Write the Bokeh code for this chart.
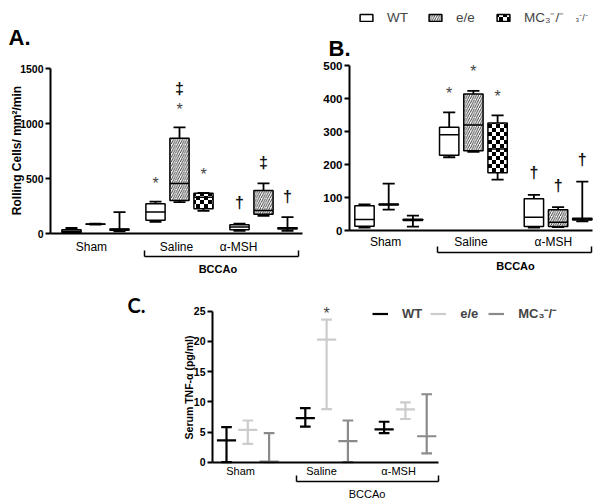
import math
import zlib
import struct
import base64
from bokeh.plotting import figure
from bokeh.models import (ColumnDataSource, Range1d, FixedTicker, LinearAxis,
                          Label, LabelSet, Legend, LegendItem, ImageURLTexture)
from bokeh.layouts import column, row
from bokeh.core.properties import value
from bokeh.embed import file_html
from bokeh.resources import INLINE

FONT = "Liberation Sans"

# ---------------- data ----------------
groups = ["Sham", "Saline", "α-MSH"]
genotypes = ["WT", "e/e", "MC3-/-"]
legend_labels = ["WT", "e/e", "MC₃⁻/⁻"]

# Panel A: rolling cells / mm2 / min  -> (min, q1, median, q3, max) per group
rolling_A_wt = [(5, 10, 20, 35, 50), (105, 120, 195, 270, 290), (25, 35, 60, 80, 90)]
rolling_A_ee = [(80, 83, 85, 87, 90), (285, 300, 455, 865, 965), (160, 175, 210, 390, 455)]
rolling_A_mc3 = [(20, 30, 38, 40, 195), (205, 225, 330, 365, 370), (25, 40, 48, 52, 148)]
ticks_A = [0, 500, 1000, 1500]

# Panel B: (min, q1, median, q3, max)
rolling_B_wt = [(9, 13, 33, 75, 79), (222, 228, 290, 313, 358), (9, 12, 40, 96, 108)]
rolling_B_ee = [(63, 77, 79, 80, 142), (238, 242, 320, 414, 423), (10, 12, 25, 63, 71)]
rolling_B_mc3 = [(12, 30, 32, 34, 45), (154, 175, 247, 326, 349), (28, 32, 35, 37, 148)]
ticks_B = [0, 100, 200, 300, 400, 500]

# Panel C: serum TNF-alpha (low, centre, high)
tnf_wt = [(0.0, 3.6, 5.8), (5.9, 7.3, 8.95), (4.8, 5.45, 6.7)]
tnf_ee = [(3.05, 5.35, 6.9), (8.8, 20.3, 23.6), (7.15, 8.75, 9.9)]
tnf_mc3 = [(0.0, 0.1, 4.8), (0.0, 3.48, 6.9), (1.45, 4.3, 11.25)]
ticks_C = [0, 5, 10, 15, 20, 25]

# significance marks: (group, genotype, symbol, stack level)
marks_A = [("Saline", "WT", "*", 0), ("Saline", "e/e", "*", 0), ("Saline", "e/e", "‡", 1),
           ("Saline", "MC3-/-", "*", 0), ("α-MSH", "WT", "†", 0),
           ("α-MSH", "e/e", "‡", 0), ("α-MSH", "MC3-/-", "†", 0)]
marks_B = [("Saline", "WT", "*", 0), ("Saline", "e/e", "*", 0), ("Saline", "MC3-/-", "*", 0),
           ("α-MSH", "WT", "†", 0), ("α-MSH", "e/e", "†", 0), ("α-MSH", "MC3-/-", "†", 0)]
marks_C = [("Saline", "e/e", "*", 0)]


# ---------------- helpers ----------------
class PixMap:
    """maps a canvas pixel position to a data value (linear)"""
    def __init__(self, p0, v0, p1, v1):
        self.p0, self.v0 = p0, v0
        self.s = (v1 - v0) / (p1 - p0)

    def __call__(self, px):
        return self.v0 + (px - self.p0) * self.s


def checker_png(n=8, s=4):
    raw = b""
    for yy in range(n):
        raw += b"\x00"
        for xx in range(n):
            black = ((xx // s) + (yy // s)) % 2 == 0
            raw += b"\x00\x00\x00\xff" if black else b"\xff\xff\xff\xff"

    def chunk(t, d):
        c = struct.pack(">I", len(d)) + t + d
        return c + struct.pack(">I", zlib.crc32(t + d) & 0xffffffff)

    ihdr = struct.pack(">IIBBBBB", n, n, 8, 6, 0, 0, 0)
    png = (b"\x89PNG\r\n\x1a\n" + chunk(b"IHDR", ihdr) +
           chunk(b"IDAT", zlib.compress(raw)) + chunk(b"IEND", b""))
    return "data:image/png;base64," + base64.b64encode(png).decode()


BOX_W = 0.8
CAP_W = 0.5
CHECKER = ImageURLTexture(url=checker_png())
hatches = [
    dict(hatch_pattern=None),
    dict(hatch_pattern="right_diagonal_line", hatch_color="#222222", hatch_scale=4.5, hatch_weight=0.9),
    dict(hatch_pattern=value("checker"), hatch_extra={"checker": CHECKER}),
]


def base_fig(width, height, mx, my):
    p = figure(width=width, height=height,
               x_range=Range1d(mx(0), mx(width)), y_range=Range1d(my(height), my(0)),
               output_backend="svg", toolbar_location=None, tools="", title=None,
               min_border_left=0, min_border_right=0, min_border_top=0, min_border_bottom=0)
    p.outline_line_color = None
    p.grid.visible = False
    p.background_fill_color = "white"
    p.border_fill_color = "white"
    return p


def style_y(p, ticks, size, x_loc):
    ax = p.yaxis[0]
    ax.fixed_location = x_loc
    ax.bounds = (ticks[0], ticks[-1])
    ax.ticker = FixedTicker(ticks=ticks)
    ax.axis_line_width = 2
    ax.axis_line_color = "black"
    ax.major_tick_line_width = 2
    ax.major_tick_line_color = "black"
    ax.major_tick_out = 5
    ax.major_tick_in = 0
    ax.minor_tick_line_color = None
    ax.minor_tick_out = 0
    ax.minor_tick_in = 0
    ax.major_label_text_font = FONT
    ax.major_label_text_font_size = size
    ax.major_label_text_font_style = "bold"
    ax.major_label_text_color = "black"
    ax.major_label_standoff = 2


def style_x(p, bounds, label_pos, size, standoff, bracket_y, bracket, bccao_pos, bold, standoff2):
    ax = p.xaxis[0]
    ax.fixed_location = 0
    ax.bounds = bounds
    ax.ticker = FixedTicker(ticks=label_pos)
    ax.major_label_overrides = {t: g for t, g in zip(label_pos, groups)}
    ax.axis_line_width = 2
    ax.axis_line_color = "black"
    ax.major_tick_line_color = None
    ax.major_tick_out = 0
    ax.major_tick_in = 0
    ax.minor_tick_line_color = None
    ax.minor_tick_out = 0
    ax.minor_tick_in = 0
    ax.major_label_text_font = FONT
    ax.major_label_text_font_size = size
    ax.major_label_text_color = "black"
    ax.major_label_standoff = standoff
    ax2 = LinearAxis(fixed_location=bracket_y, bounds=bracket,
                     ticker=FixedTicker(ticks=[bccao_pos], minor_ticks=list(bracket)),
                     major_label_overrides={bccao_pos: "BCCAo"})
    ax2.axis_line_width = 1.5
    ax2.axis_line_color = "black"
    ax2.major_tick_line_color = None
    ax2.major_tick_out = 0
    ax2.major_tick_in = 0
    ax2.minor_tick_in = 6
    ax2.minor_tick_out = 0
    ax2.minor_tick_line_width = 1.5
    ax2.minor_tick_line_color = "black"
    ax2.major_label_text_font = FONT
    ax2.major_label_text_font_size = "11px"
    ax2.major_label_text_font_style = "bold" if bold else "normal"
    ax2.major_label_text_color = "black"
    ax2.major_label_standoff = standoff2
    p.add_layout(ax2, "below")


def draw_boxes(p, stats_by_geno, gap):
    rends = []
    for i, stats in enumerate(stats_by_geno):
        xs = [g * gap + i for g in range(len(groups))]
        src = ColumnDataSource(dict(
            x=xs,
            lo=[s[0] for s in stats], q1=[s[1] for s in stats], med=[s[2] for s in stats],
            q3=[s[3] for s in stats], hi=[s[4] for s in stats],
            cl=[x - CAP_W / 2 for x in xs], cr=[x + CAP_W / 2 for x in xs],
            bl=[x - BOX_W / 2 for x in xs], br=[x + BOX_W / 2 for x in xs]))
        kw = dict(source=src, line_color="black", line_width=1.8)
        p.segment("x", "lo", "x", "q1", **kw)
        p.segment("x", "q3", "x", "hi", **kw)
        p.segment("cl", "hi", "cr", "hi", **kw)
        p.segment("cl", "lo", "cr", "lo", **kw)
        r = p.vbar(x="x", width=BOX_W, bottom="q1", top="q3", source=src,
                   fill_color="white", line_color="black", line_width=1.5, **hatches[i])
        p.segment("bl", "med", "br", "med", source=src, line_color="black", line_width=1.5)
        rends.append(r)
    return rends


def add_marks(p, marks, tops, gap, base, step):
    xs, ys, txt, off, sty, col = [], [], [], [], [], []
    for grp, geno, sym, lvl in marks:
        g = groups.index(grp)
        i = genotypes.index(geno)
        xs.append(g * gap + i)
        ys.append(tops[i][g])
        txt.append(sym)
        star = sym == "*"
        off.append(base + lvl * step - (3 if star else 0))
        sty.append("normal" if star else "bold")
        col.append("#444444" if star else "#111111")
    src = ColumnDataSource(dict(x=xs, y=ys, text=txt, off=off, sty=sty, col=col))
    p.add_layout(LabelSet(x="x", y="y", text="text", y_offset="off", source=src,
                          text_align="center", text_baseline="middle",
                          text_font=value(FONT), text_font_size="16px",
                          text_font_style="sty", text_color="col"))


def screen_label(p, h, x, y_top, text, size, bold=True, angle=0.0, align="left",
                 baseline="alphabetic", font=FONT, color="black"):
    # y_top: pixel position measured from the top of the canvas
    p.add_layout(Label(x=x, y=h - y_top, x_units="screen", y_units="screen", text=text,
                       text_font=font, text_font_size=size,
                       text_font_style="bold" if bold else "normal",
                       angle=angle, text_align=align, text_baseline=baseline,
                       text_color=color))


TOP_H = 290

# ---------------- Panel A ----------------
GAP_AB = 3.5
WA = 308
mxA = PixMap(71, 0, 95, 1)
myA = PixMap(233, 0, 68, 1500)
pA = base_fig(WA, TOP_H, mxA, myA)
style_y(pA, ticks_A, "10.5px", mxA(50))
style_x(pA, (mxA(50), mxA(302)), [0.83, 4.375, 6.96], "12px", 6,
        myA(256), (3.04, 9.46), 6.1, True, 6)
stats_A = [rolling_A_wt, rolling_A_ee, rolling_A_mc3]
draw_boxes(pA, stats_A, GAP_AB)
add_marks(pA, marks_A, [[s[4] for s in st] for st in stats_A], GAP_AB, 21, 18)
screen_label(pA, TOP_H, 8, 37, "A.", "22px")
screen_label(pA, TOP_H, 16, 150, "Rolling Cells/ mm²/min", "12px", angle=math.pi / 2,
             align="center", baseline="middle")

# ---------------- Panel B ----------------
WB = 298
mxB = PixMap(56, 0, 80.2, 1)
myB = PixMap(230, 0, 65, 500)
pB = base_fig(WB, TOP_H, mxB, myB)
style_y(pB, ticks_B, "11.5px", mxB(41))
style_x(pB, (mxB(41), mxB(284)), [0.87, 4.4, 7.8], "12px", 4,
        myB(252), (3.03, 9.4), 6.24, True, 7)
stats_B = [rolling_B_wt, rolling_B_ee, rolling_B_mc3]
rB = draw_boxes(pB, stats_B, GAP_AB)
add_marks(pB, marks_B, [[s[4] for s in st] for st in stats_B], GAP_AB, 22, 18)
screen_label(pB, TOP_H, 20, 48, "B.", "22px")
legB = Legend(items=[LegendItem(label=legend_labels[i], renderers=[rB[i]]) for i in range(3)],
              location=(50, TOP_H - 26), orientation="horizontal", glyph_width=16, glyph_height=9,
              label_standoff=13, spacing=19, padding=0, margin=0, border_line_color=None,
              background_fill_alpha=0, label_text_font=FONT, label_text_font_size="13.5px",
              label_height=14)
pB.add_layout(legB)
screen_label(pB, TOP_H, 267, 17, "₃⁻/⁻", "9px", bold=False, baseline="middle", color="#333333")

# ---------------- Panel C ----------------
GAP_C = 3.7
WC, HC = 606, 211
colors_C = ["black", "#cccccc", "#8a8a8a"]
mxC = PixMap(226, 0, 247.3, 1)
myC = PixMap(171.7, 0, 20.7, 25)
pC = base_fig(WC, HC, mxC, myC)
style_y(pC, ticks_C, "10.5px", mxC(212))
style_x(pC, (mxC(212), mxC(438)), [0.66, 4.46, 8.08], "11px", 3,
        myC(190.7), (3.29, 9.93), 6.6, False, 7)
stats_C = [tnf_wt, tnf_ee, tnf_mc3]
rC = []
for i, stats in enumerate(stats_C):
    xs = [g * GAP_C + i for g in range(len(groups))]
    src = ColumnDataSource(dict(
        x=xs, lo=[s[0] for s in stats], mid=[s[1] for s in stats], hi=[s[2] for s in stats],
        cl=[x - CAP_W / 2 for x in xs], cr=[x + CAP_W / 2 for x in xs],
        ml=[x - 0.45 for x in xs], mr=[x + 0.45 for x in xs]))
    kw = dict(source=src, line_color=colors_C[i], line_width=2.2)
    r = pC.segment("x", "lo", "x", "hi", **kw)
    pC.segment("cl", "lo", "cr", "lo", **kw)
    pC.segment("cl", "hi", "cr", "hi", **kw)
    pC.segment("ml", "mid", "mr", "mid", **kw)
    rC.append(r)
add_marks(pC, marks_C, [[s[2] for s in st] for st in stats_C], GAP_C, 9, 18)
screen_label(pC, HC, 127, 14, "C.", "20px", font="Lato")
screen_label(pC, HC, 188, 97, "Serum TNF-α (pg/ml)", "10.5px", angle=math.pi / 2,
             align="center", baseline="middle")
legC = Legend(items=[LegendItem(label=legend_labels[i], renderers=[rC[i]]) for i in range(3)],
              location=(372, HC - 32), orientation="horizontal", glyph_width=16, glyph_height=9,
              label_standoff=14, spacing=8, padding=0, margin=0, border_line_color=None,
              background_fill_alpha=0, label_text_font=FONT, label_text_font_size="13px",
              label_text_font_style="bold", label_height=14)
pC.add_layout(legC)

layout = column(row(pA, pB), pC)
open("out.html", "w").write(file_html(layout, INLINE))
